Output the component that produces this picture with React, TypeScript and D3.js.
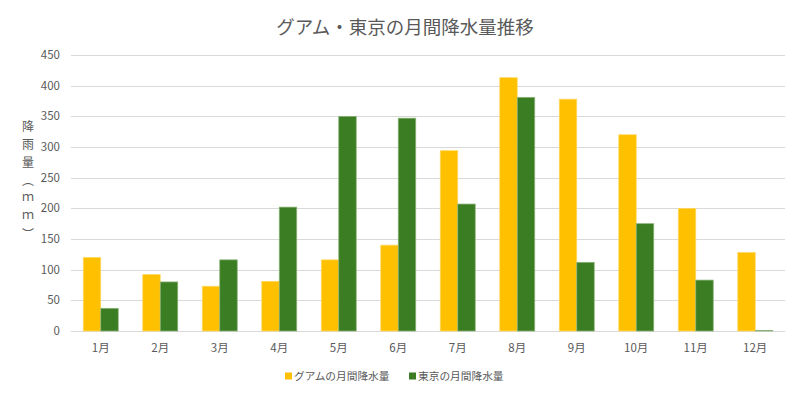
import { useRef, useEffect } from 'react';
import * as d3 from 'd3';

const months: string[] = ['1月', '2月', '3月', '4月', '5月', '6月', '7月', '8月', '9月', '10月', '11月', '12月'];
const seriesNames: string[] = ['グアムの月間降水量', '東京の月間降水量'];
const guam: number[] = [120, 92, 73, 81, 116, 140, 294, 413, 378, 320, 200, 128];
const tokyo: number[] = [37, 80, 116, 202, 350, 347, 207, 381, 112, 175, 83, 1];
const yTicks: number[] = [0, 50, 100, 150, 200, 250, 300, 350, 400, 450];

const colors = ['#FFC000', '#3B7D23'];
const strokes = ['#FFD966', '#8DB37A'];
const font = '"Noto Sans CJK JP", "Noto Sans", sans-serif';
const textColor = '#595959';

export default function App() {
  const chartRef = useRef<SVGSVGElement | null>(null);

  useEffect(() => {
    if (!chartRef.current) return;
    const width = 800;
    const height = 395;
    const margin = { left: 71, right: 15, top: 55, bottom: 64 };

    const svg = d3.select(chartRef.current)
      .attr('width', width)
      .attr('height', height);
    svg.selectAll('*').remove();

    // background + chart border
    svg.append('rect')
      .attr('x', 0.5).attr('y', 0.5)
      .attr('width', width - 1).attr('height', height - 1)
      .attr('fill', '#fff')
      .attr('stroke', '#d9d9d9');

    const x0 = d3.scaleBand<string>()
      .domain(months)
      .range([margin.left, width - margin.right]);

    const bw = x0.bandwidth();
    const x1 = d3.scaleBand<number>()
      .domain([0, 1])
      .range([bw * 0.206, bw * 0.794]);

    const y = d3.scaleLinear()
      .domain([0, 450])
      .range([height - margin.bottom, margin.top]);

    // gridlines
    svg.append('g')
      .selectAll('line')
      .data(yTicks)
      .enter()
      .append('line')
      .attr('x1', margin.left)
      .attr('x2', width - margin.right)
      .attr('y1', (d) => Math.round(y(d)) + 0.5)
      .attr('y2', (d) => Math.round(y(d)) + 0.5)
      .attr('stroke', '#d9d9d9')
      .attr('stroke-width', 1);

    // y tick labels
    svg.append('g')
      .selectAll('text')
      .data(yTicks)
      .enter()
      .append('text')
      .text((d) => String(d))
      .attr('x', 60)
      .attr('y', (d) => y(d))
      .attr('dy', '0.35em')
      .attr('text-anchor', 'end')
      .attr('font-family', font)
      .attr('font-size', '11.5px')
      .attr('fill', textColor);

    // bars
    const data = [guam, tokyo];
    const groups = svg.append('g')
      .selectAll('g')
      .data(months)
      .enter()
      .append('g')
      .attr('transform', (m) => `translate(${x0(m) || 0},0)`);

    groups.selectAll('rect')
      .data((_m, i) => data.map((s, k) => ({ k, v: s[i] })))
      .enter()
      .append('rect')
      .attr('x', (d) => x1(d.k) || 0)
      .attr('y', (d) => y(d.v))
      .attr('width', x1.bandwidth())
      .attr('height', (d) => y(0) - y(d.v))
      .attr('fill', (d) => colors[d.k])
      .attr('stroke', (d) => strokes[d.k])
      .attr('stroke-width', 0.75);

    // x tick labels
    svg.append('g')
      .selectAll('text')
      .data(months)
      .enter()
      .append('text')
      .text((d) => d)
      .attr('x', (d) => (x0(d) || 0) + bw / 2)
      .attr('y', 348)
      .attr('dy', '0.35em')
      .attr('text-anchor', 'middle')
      .attr('font-family', font)
      .attr('font-size', '11.5px')
      .attr('fill', textColor);

    // title
    svg.append('text')
      .text('グアム・東京の月間降水量推移')
      .attr('x', 405)
      .attr('y', 28)
      .attr('dy', '0.35em')
      .attr('text-anchor', 'middle')
      .attr('font-family', font)
      .attr('font-size', '18.5px')
      .attr('fill', textColor);

    // y axis title (vertical)
    svg.append('text')
      .text('降雨量（ｍｍ）')
      .attr('x', 28)
      .attr('y', 183)
      .attr('text-anchor', 'middle')
      .style('writing-mode', 'vertical-rl')
      .attr('letter-spacing', '6px')
      .attr('font-family', font)
      .attr('font-size', '12px')
      .attr('fill', textColor);

    // legend
    const legendX = [285, 409];
    const legend = svg.append('g')
      .selectAll('g')
      .data(seriesNames)
      .enter()
      .append('g')
      .attr('transform', (_d, i) => `translate(${legendX[i]},376)`);
    legend.append('rect')
      .attr('x', 0).attr('y', -3.5)
      .attr('width', 7).attr('height', 7)
      .attr('fill', (_d, i) => colors[i]);
    legend.append('text')
      .text((d) => d)
      .attr('x', 9)
      .attr('y', 0)
      .attr('dy', '0.35em')
      .attr('font-family', font)
      .attr('font-size', '10.7px')
      .attr('fill', textColor);
  }, []);

  return (
    <div style={{ margin: -8 }}>
      <svg ref={chartRef} style={{ display: 'block' }}></svg>
    </div>
  );
}
